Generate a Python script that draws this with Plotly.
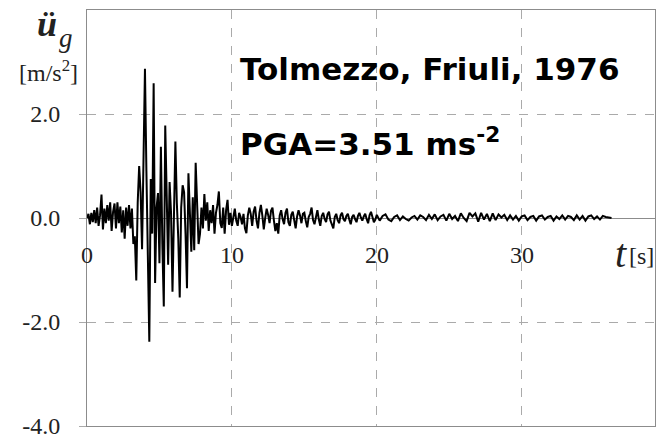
import plotly.graph_objects as go

# Strong-motion part, sampled every 0.1 s from 0.0 to 10.0 s
t_strong = [round(0.1 * i, 1) for i in range(101)]
a_strong = [
    0.00, 0.08, -0.12, 0.10, -0.08, 0.15, -0.10, 0.20, -0.15, 0.05,
    0.45, -0.22, 0.18, -0.10, 0.25, -0.05, 0.30, -0.25, 0.12, 0.28,
    -0.20, 0.30, -0.10, 0.22, -0.28, 0.15, -0.40, 0.20, -0.15, 0.25,
    -0.20, 0.18, -0.50, -0.35, -1.20, 0.30, 1.00, 0.50, -0.60, 0.80,
    2.87, 0.90, -1.00, -2.38, 0.75, -0.30, 2.59, -1.25, 0.20, 0.48,
    -0.87, 1.37, -0.50, -1.70, 1.78, 0.30, -0.90, 0.69, 0.10, -1.42,
    0.50, 1.47, 0.29, -0.40, -1.53, 0.20, 0.63, 0.50, -0.30, -1.35,
    0.86, 0.20, -0.65, 0.40, -0.62, 1.06, 0.30, -0.50, -0.30, 0.20,
    -0.20, 0.46, -0.05, 0.30, -0.25, 0.15, -0.10, 0.25, -0.30, 0.10,
    0.25, 0.51, -0.10, -0.19, 0.20, -0.30, 0.15, 0.35, -0.13, 0.10,
    -0.15,
]

# Early coda, sampled every 0.1 s from 10.1 to 20.0 s
t_coda1 = [round(10.1 + 0.1 * i, 1) for i in range(100)]
a_coda1 = [
    0.05, 0.18, -0.05, -0.15, 0.10, 0.02, -0.12, 0.08, -0.20, -0.29,
    0.05, 0.20, 0.08, -0.15, 0.12, 0.22, -0.05, -0.20, 0.10, 0.25,
    0.05, -0.22, 0.00, 0.18, 0.06, -0.10, 0.14, 0.20, -0.05, -0.25,
    -0.10, -0.30, 0.05, 0.15, -0.02, -0.12, 0.10, 0.18, -0.08, -0.15,
    0.06, 0.12, -0.04, -0.20, 0.03, 0.15, 0.05, -0.10, 0.08, 0.10,
    -0.06, -0.18, 0.02, 0.08, 0.20, -0.04, -0.12, 0.06, 0.15, -0.03,
    -0.15, 0.04, 0.10, -0.02, -0.08, 0.07, 0.12, -0.05, -0.12, -0.20,
    0.02, 0.08, -0.04, -0.10, 0.05, 0.10, -0.02, -0.06, 0.04, 0.08,
    -0.03, -0.12, 0.02, 0.06, -0.02, -0.08, 0.04, 0.10, 0.01, -0.05,
    0.03, 0.08, -0.02, -0.10, 0.05, 0.12, 0.02, -0.08, -0.03, 0.06,
]

# Late coda, sampled every 0.2 s from 20.2 to 36.2 s
t_coda2 = [round(20.2 + 0.2 * i, 1) for i in range(81)]
a_coda2 = [
    -0.05, 0.04, 0.07, -0.03, -0.06, 0.02, 0.05, -0.04, 0.03, -0.02,
    -0.05, 0.01, 0.04, -0.03, 0.05, 0.02, -0.04, 0.06, -0.02, 0.07,
    -0.04, 0.03, 0.06, -0.05, 0.08, -0.02, 0.04, -0.06, 0.09, 0.00,
    -0.06, 0.10, 0.03, 0.09, -0.07, 0.10, -0.03, 0.08, -0.06, 0.09,
    -0.04, 0.07, 0.01, 0.06, -0.04, 0.05, -0.03, 0.04, -0.05, 0.03,
    0.05, -0.04, 0.02, 0.04, -0.05, 0.03, 0.05, -0.03, 0.02, 0.04,
    -0.05, 0.03, -0.02, 0.05, -0.03, 0.04, 0.02, -0.04, 0.05, -0.03,
    0.04, -0.05, 0.03, 0.05, -0.02, 0.03, -0.03, 0.04, 0.02, 0.01,
    0.00,
]

x_tick_vals = [0, 10, 20, 30]
x_tick_text = ["0", "10", "20", "30"]
y_tick_vals = [-4, -2, 0, 2]
y_tick_text = ["-4.0", "-2.0", "0.0", "2.0"]

time = t_strong + t_coda1 + t_coda2
accel = a_strong + a_coda1 + a_coda2

fig = go.Figure()
fig.add_trace(go.Scatter(x=time, y=accel, mode="lines",
                         line=dict(color="black", width=2),
                         hoverinfo="skip", showlegend=False))

grid_col = "#aaaaaa"
frame_col = "#8c8c8c"
serif = "Liberation Serif"
txt_col = "#222222"

fig.update_layout(
    width=657, height=437,
    margin=dict(l=87, r=2, t=10, b=11),
    paper_bgcolor="white", plot_bgcolor="white",
    xaxis=dict(range=[0, 39.2], tickvals=[10, 20, 30], showticklabels=False,
               showgrid=True, gridcolor=grid_col, griddash="dash", gridwidth=1,
               zeroline=False, showline=True, mirror=True,
               linecolor=frame_col, linewidth=1, ticks=""),
    yaxis=dict(range=[-4, 4], tickvals=y_tick_vals, ticktext=y_tick_text,
               showgrid=True, gridcolor=grid_col, griddash="dash", gridwidth=1,
               zeroline=True, zerolinecolor=frame_col, zerolinewidth=1,
               showline=True, mirror=True, linecolor=frame_col, linewidth=1,
               ticks="outside", ticklen=7, tickcolor=grid_col,
               ticklabelstandoff=14, ticklabeloverflow="allow",
               automargin=False,
               tickfont=dict(family=serif, size=24, color=txt_col)),
)

annotations = []
for v, s in zip(x_tick_vals, x_tick_text):
    annotations.append(dict(x=v, y=0, xref="x", yref="y", text=s,
                            showarrow=False, yshift=-37,
                            xanchor="center", yanchor="middle",
                            font=dict(family=serif, size=24, color=txt_col)))
# pixel-positioned annotations: (x px, y px, text, font, xanchor)
px_notes = [
    (621, 253, "<i>t</i>", dict(family=serif, size=40, color=txt_col), "center"),
    (641, 256, "[s]", dict(family=serif, size=24, color=txt_col), "center"),
    (47, 24, "<b><i>ü</i></b>", dict(family=serif, size=36, color=txt_col), "center"),
    (66, 38, "<i>g</i>", dict(family=serif, size=27, color=txt_col), "center"),
    (48, 71, "[m/s<sup>2</sup>]", dict(family=serif, size=24, color=txt_col), "center"),
    (238, 69, "<b>Tolmezzo, Friuli, 1976</b>",
     dict(family="DejaVu Sans", size=31, color="black"), "left"),
    (238, 142, "<b>PGA=3.51 ms<sup>-2</sup></b>",
     dict(family="DejaVu Sans", size=31, color="black"), "left"),
]
pw, ph = 657 - 87 - 2, 437 - 10 - 11
for x, y, s, f, xa in px_notes:
    annotations.append(dict(x=(x - 87) / pw, y=1 - (y - 10) / ph,
                            xref="paper", yref="paper", text=s,
                            showarrow=False, xanchor=xa, yanchor="middle",
                            font=f))
fig.update_layout(annotations=annotations)

fig.write_html("out.html")
